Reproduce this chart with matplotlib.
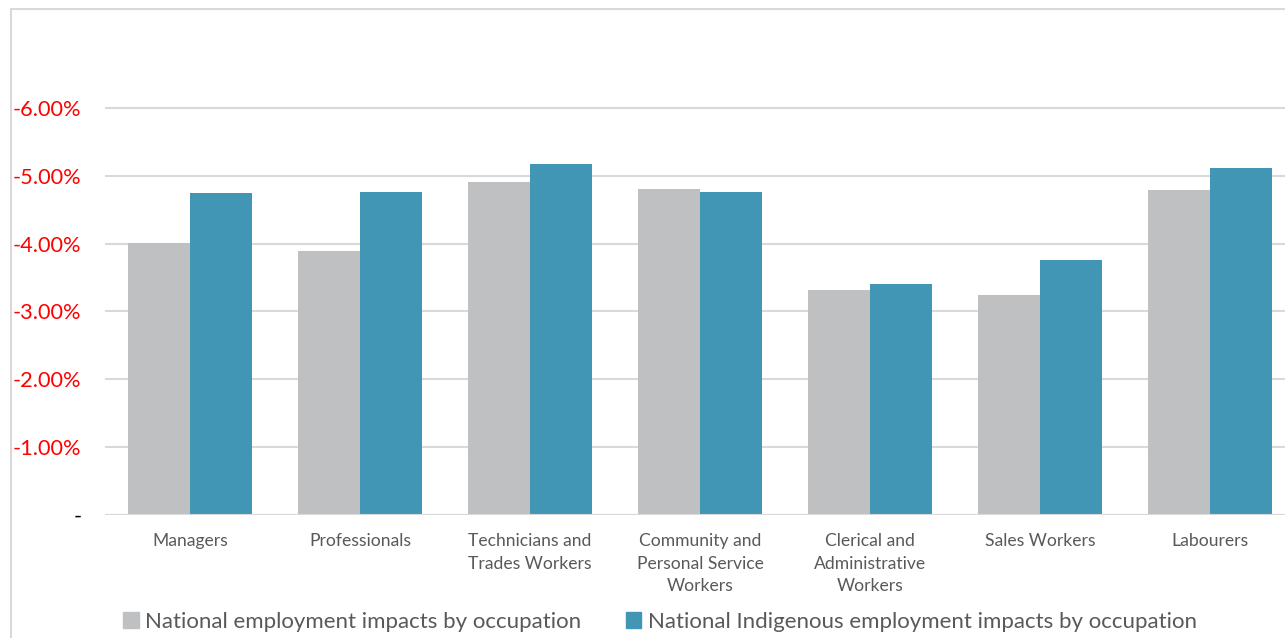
import matplotlib.pyplot as plt
import numpy as np
from matplotlib.patches import Rectangle, Patch

categories = ["Managers", "Professionals", "Technicians and\nTrades Workers",
              "Community and\nPersonal Service\nWorkers", "Clerical and\nAdministrative\nWorkers",
              "Sales Workers", "Labourers"]
national = [-4.01, -3.89, -4.91, -4.81, -3.32, -3.24, -4.79]
indigenous = [-4.75, -4.76, -5.17, -4.76, -3.41, -3.76, -5.12]
yticks = [0, -1, -2, -3, -4, -5, -6]
ytick_labels = ["-", "-1.00%", "-2.00%", "-3.00%", "-4.00%", "-5.00%", "-6.00%"]
series_names = ["National employment impacts by occupation",
                "National Indigenous employment impacts by occupation"]

grey = "#BFC0C2"
blue = "#4096B4"
font = ["Lato", "DejaVu Sans"]
plt.rcParams['font.family'] = font

fig = plt.figure(figsize=(12.85, 6.38), dpi=100)
# chart frame
fig.patches.append(Rectangle((11 / 1285, -0.1), 1.2, 1 - 9 / 638 + 0.1, transform=fig.transFigure,
                             fill=False, edgecolor="#D9D9D9", linewidth=1.5))

ax = fig.add_axes([105 / 1285, 1 - 515 / 638, 1190 / 1285, 475 / 638])
x = np.arange(len(categories))
w = 0.365
ax.bar(x - w / 2, national, w, color=grey, zorder=2)
ax.bar(x + w / 2, indigenous, w, color=blue, zorder=2)

ax.set_xlim(-0.5, len(categories) - 0.5)
ax.set_ylim(0, -7)
ax.set_yticks(yticks)
ax.set_yticklabels(ytick_labels, fontsize=15.7)
for t, v in zip(ax.get_yticklabels(), yticks):
    t.set_color("black" if v == 0 else "#FF0000")
ax.set_xticks(x)
ax.set_xticklabels(categories, fontsize=12.6, color="#595959", linespacing=1.5, va="top")
ax.tick_params(length=0, axis="y", pad=17)
ax.tick_params(length=0, axis="x", pad=13)
ax.grid(axis="y", color="#D9D9D9", linewidth=1.5, zorder=0)
for s in ax.spines.values():
    s.set_visible(False)
ax.axhline(0, color="#D9D9D9", linewidth=1.5, zorder=3)

handles = [Patch(color=grey), Patch(color=blue)]
fig.legend(handles, series_names, loc="center", bbox_to_anchor=(660 / 1285, 1 - 622 / 638),
           ncol=2, frameon=False, fontsize=16.0, handlelength=0.7, handleheight=0.7,
           handletextpad=0.3, columnspacing=2.0, labelcolor="#595959")

fig.savefig("out.png", dpi=100)
